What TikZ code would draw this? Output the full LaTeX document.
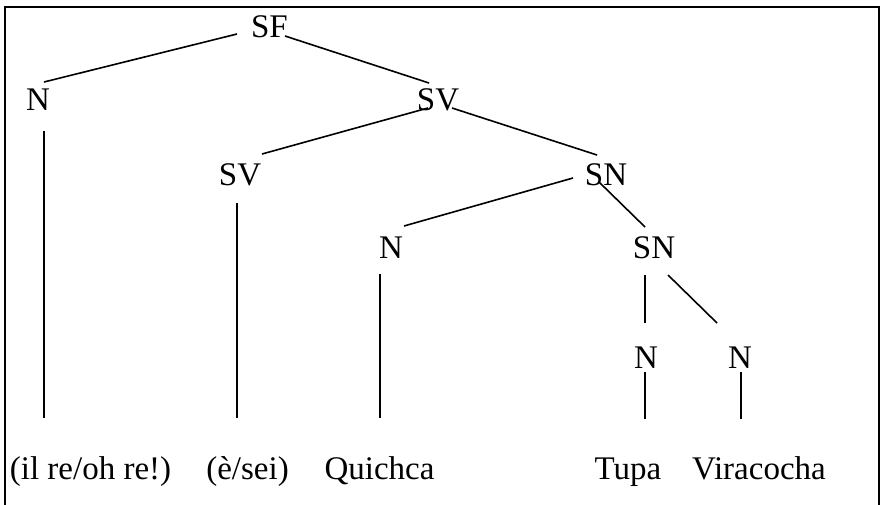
\documentclass[tikz,border=0pt]{standalone}
\usepackage{fontspec}
\setmainfont{Liberation Serif}
\usepackage{tikz}
\usetikzlibrary{positioning,calc}
\tikzstyle{LABEL} = [anchor=base, inner sep=0pt, font=\fontsize{33}{39}\selectfont]
\tikzstyle{LINE} = [draw, line width=1.6pt]
\tikzstyle{FRAME} = [draw, line width=2.5pt]

\begin{document}
\begin{tikzpicture}[x=1pt, y=-1pt]
\useasboundingbox (0,0) rectangle (882,504);
% Frame
\path [FRAME] (5,520) -- (5,7) -- (879,7) -- (879,520);
% Place nodes
\node [LABEL] (sf) at (269.5,37) {SF};
\node [LABEL] (n_1) at (38,110.5) {N};
\node [LABEL] (sv_1) at (438,110) {SV};
\node [LABEL] (sv_2) at (240,185) {SV};
\node [LABEL] (sn_1) at (606,185) {SN};
\node [LABEL] (n_2) at (391,258) {N};
\node [LABEL] (sn_2) at (654,258) {SN};
\node [LABEL] (n_3) at (646,368) {N};
\node [LABEL] (n_4) at (740,368) {N};
\node [LABEL] (w_1) at (90.5,479) {(il re/oh re!)};
\node [LABEL] (w_2) at (247.5,479) {(è/sei)};
\node [LABEL] (w_3) at (379.5,479) {Quichca};
\node [LABEL] (w_4) at (628,479) {Tupa};
\node [LABEL] (w_5) at (759,479) {Viracocha};
% LINES
\path [LINE] ([shift={(-32.5,-3)}]sf.base) -- ([shift={(6,-28.5)}]n_1.base);
\path [LINE] ([shift={(15.5,-1)}]sf.base) -- ([shift={(-9,-27)}]sv_1.base);
\path [LINE] ([shift={(-10,-2)}]sv_1.base) -- ([shift={(22,-31)}]sv_2.base);
\path [LINE] ([shift={(14,-2)}]sv_1.base) -- ([shift={(-9,-30)}]sn_1.base);
\path [LINE] ([shift={(-33,-7)}]sn_1.base) -- ([shift={(13,-32)}]n_2.base);
\path [LINE] ([shift={(-7,-3)}]sn_1.base) -- ([shift={(-9,-31)}]sn_2.base);
\path [LINE] ([shift={(-9,17)}]sn_2.base) -- ([shift={(-1,-45)}]n_3.base);
\path [LINE] ([shift={(14,17)}]sn_2.base) -- ([shift={(-23,-45)}]n_4.base);
\path [LINE] ([shift={(6,20.5)}]n_1.base) -- ([shift={(-46.5,-61)}]w_1.base);
\path [LINE] ([shift={(-3,18)}]sv_2.base) -- ([shift={(-10.5,-61)}]w_2.base);
\path [LINE] ([shift={(-11,16)}]n_2.base) -- ([shift={(0.5,-61)}]w_3.base);
\path [LINE] ([shift={(-1,4)}]n_3.base) -- ([shift={(17,-60)}]w_4.base);
\path [LINE] ([shift={(1,4)}]n_4.base) -- ([shift={(-18,-60)}]w_5.base);
\end{tikzpicture}
\end{document}
